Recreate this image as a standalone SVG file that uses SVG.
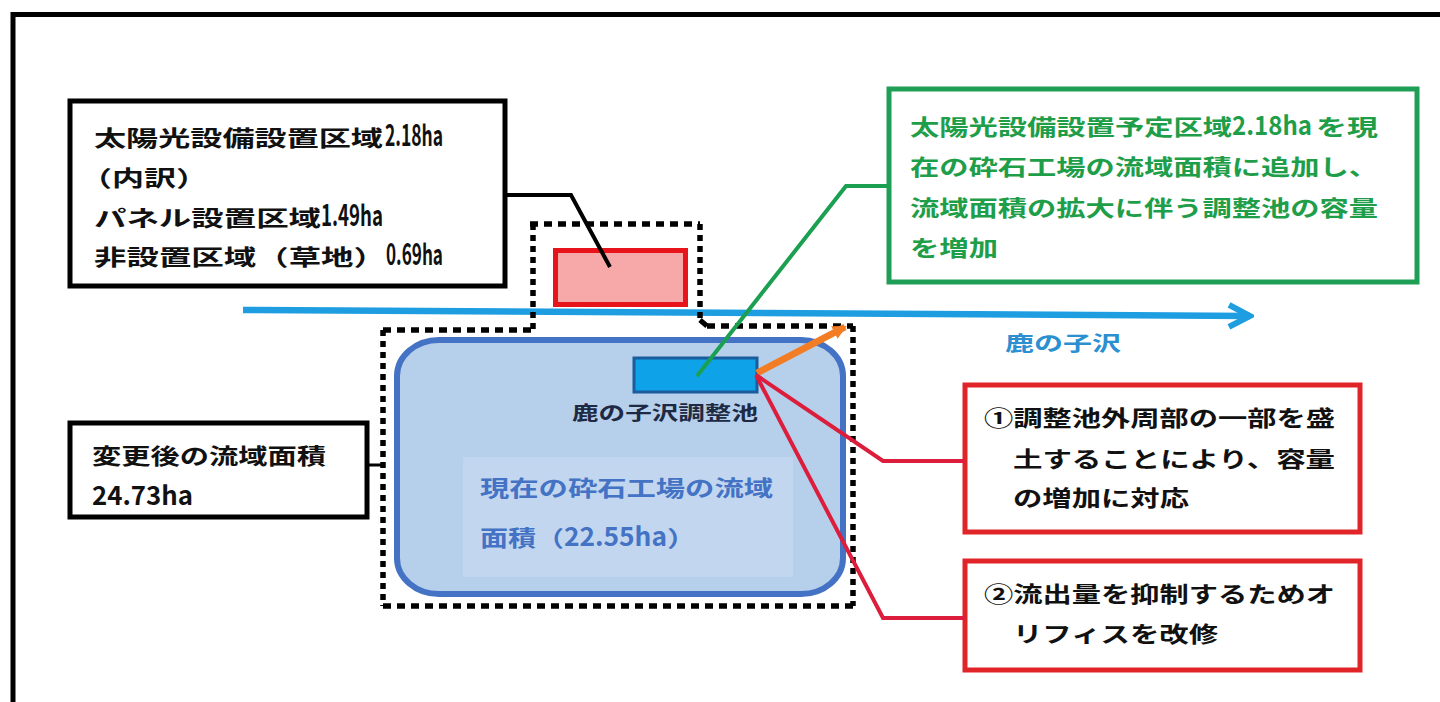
<svg xmlns="http://www.w3.org/2000/svg" width="1440" height="702" viewBox="0 0 1440 702">
<defs>
<style>
text{font-family:"Noto Sans CJK JP","Noto Sans CJK SC",sans-serif;font-weight:700;}
.t{font-size:22px;fill:#111;}
.g{font-size:22px;fill:#1f9e4a;}
.b{font-size:22px;fill:#4472c4;}
.n{font-size:26px;}
.m{font-size:29px;}
.box{fill:#fff;stroke-width:5;}
.blk{stroke:#000;}
.grn{stroke:#1f9e55;}
.red{stroke:#e12428;}
.dh{fill:none;stroke:#000;stroke-width:5.5;stroke-dasharray:8 6;}
.dv{fill:none;stroke:#000;stroke-width:5.5;stroke-dasharray:6 5;}
.c{fill:none;stroke-linejoin:miter;}
</style>
<marker id="chev" markerUnits="userSpaceOnUse" viewBox="0 0 30 30" refX="26" refY="15" markerWidth="30" markerHeight="30" orient="auto">
<path d="M5,4 L26,15 L5,26" fill="none" stroke="#1e9ee0" stroke-width="6"/>
</marker>
<marker id="oarr" markerUnits="userSpaceOnUse" viewBox="0 0 16 16" refX="12" refY="8" markerWidth="16" markerHeight="16" orient="auto">
<path d="M0,1 L14,8 L0,15 Z" fill="#f27d25"/>
</marker>
</defs>
<rect width="1440" height="702" fill="#fff"/>
<path id="frame" d="M13,702 V14.5 H1440" fill="none" stroke="#000" stroke-width="5"/>

<g id="stream">
<line x1="243" y1="310" x2="1250" y2="316" stroke="#1e9ee0" stroke-width="6.5" marker-end="url(#chev)"/>
<text x="1005" y="351" font-size="20" fill="#2b8fd0" textLength="116" lengthAdjust="spacingAndGlyphs">鹿の子沢</text>
</g>

<g id="solar-area">
<rect x="555.5" y="250.5" width="130" height="54" fill="#f7a9a9" stroke="#e8141c" stroke-width="5"/>
</g>

<g id="basin">
<rect x="397" y="340" width="446" height="254" rx="42" ry="36" fill="#b6cfeb" stroke="#4472c4" stroke-width="6"/>
<rect x="463" y="457" width="330" height="120" fill="#c2d7ef"/>
<text class="b" x="480" y="496" textLength="293" lengthAdjust="spacingAndGlyphs">現在の砕石工場の流域</text>
<text class="b" y="546"><tspan x="480" textLength="84" lengthAdjust="spacingAndGlyphs">面積（</tspan><tspan class="n" x="564" textLength="103" lengthAdjust="spacingAndGlyphs">22.55ha</tspan><tspan x="667" textLength="29" lengthAdjust="spacingAndGlyphs">）</tspan></text>
</g>

<g id="catchment-boundary">
<path class="dh" d="M530,224 H700 M707,326 H853 M383,606 H853 M383,330 H533"/>
<path class="dv" d="M533,224 V330 M700,224 V320 M853,326 V606 M383,330 V606"/>
<path d="M700,320 L707,326" fill="none" stroke="#000" stroke-width="5"/>
</g>

<g id="pond">
<rect x="634" y="358" width="123" height="34" fill="#0ea2e8" stroke="#1a5c9c" stroke-width="3"/>
<text x="572" y="420" font-size="19" fill="#1e2a44" textLength="186" lengthAdjust="spacingAndGlyphs">鹿の子沢調整池</text>
</g>

<g id="box-solar">
<rect class="box blk" x="70" y="101" width="435" height="185"/>
<text class="t" y="146"><tspan x="94" textLength="289" lengthAdjust="spacingAndGlyphs">太陽光設備設置区域</tspan><tspan class="m" x="385" textLength="58" lengthAdjust="spacingAndGlyphs">2.18ha</tspan></text>
<text class="t" x="80" y="186" textLength="128" lengthAdjust="spacingAndGlyphs">（内訳）</text>
<text class="t" y="226"><tspan x="94" textLength="227" lengthAdjust="spacingAndGlyphs">パネル設置区域</tspan><tspan class="m" x="321" textLength="62" lengthAdjust="spacingAndGlyphs">1.49ha</tspan></text>
<text class="t" y="265"><tspan x="94" textLength="292" lengthAdjust="spacingAndGlyphs">非設置区域（草地）</tspan><tspan class="m" x="386" textLength="57" lengthAdjust="spacingAndGlyphs">0.69ha</tspan></text>
</g>

<g id="box-area">
<rect class="box blk" x="70" y="423" width="297" height="94"/>
<text class="t" x="92" y="464" textLength="234" lengthAdjust="spacingAndGlyphs">変更後の流域面積</text>
<text class="t n" x="92" y="505" textLength="101" lengthAdjust="spacingAndGlyphs">24.73ha</text>
</g>

<g id="box-green">
<rect class="box grn" x="889" y="89" width="528" height="193"/>
<text class="g" y="135"><tspan x="910" textLength="322" lengthAdjust="spacingAndGlyphs">太陽光設備設置予定区域</tspan><tspan class="n" x="1232" textLength="80" lengthAdjust="spacingAndGlyphs">2.18ha</tspan><tspan x="1316" textLength="62" lengthAdjust="spacingAndGlyphs">を現</tspan></text>
<text class="g" x="910" y="175" textLength="468" lengthAdjust="spacingAndGlyphs">在の砕石工場の流域面積に追加し、</text>
<text class="g" x="910" y="216" textLength="468" lengthAdjust="spacingAndGlyphs">流域面積の拡大に伴う調整池の容量</text>
<text class="g" x="910" y="256" textLength="88" lengthAdjust="spacingAndGlyphs">を増加</text>
</g>

<g id="box-red1">
<rect class="box red" x="965" y="385" width="395" height="147"/>
<text class="t" x="984" y="426" textLength="351" lengthAdjust="spacingAndGlyphs">①調整池外周部の一部を盛</text>
<text class="t" x="1013" y="467" textLength="322" lengthAdjust="spacingAndGlyphs">土することにより、容量</text>
<text class="t" x="1013" y="506" textLength="176" lengthAdjust="spacingAndGlyphs">の増加に対応</text>
</g>

<g id="box-red2">
<rect class="box red" x="965" y="561" width="395" height="109"/>
<text class="t" x="984" y="602" textLength="351" lengthAdjust="spacingAndGlyphs">②流出量を抑制するためオ</text>
<text class="t" x="1013" y="642" textLength="205" lengthAdjust="spacingAndGlyphs">リフィスを改修</text>
</g>

<g id="connectors">
<polyline class="c" points="505,195 571,195 610,267" stroke="#000" stroke-width="4"/>
<polyline class="c" points="367,465 383,465" stroke="#000" stroke-width="3"/>
<polyline class="c" points="889,186 846,186 697,376" stroke="#1aa050" stroke-width="4"/>
<line x1="757" y1="373" x2="845" y2="327" stroke="#f27d25" stroke-width="7" marker-end="url(#oarr)"/>
<polyline class="c" points="756,375 883,461 965,461" stroke="#dc1e3c" stroke-width="4"/>
<polyline class="c" points="756,375 883,618 965,618" stroke="#dc1e3c" stroke-width="4"/>
</g>
</svg>
